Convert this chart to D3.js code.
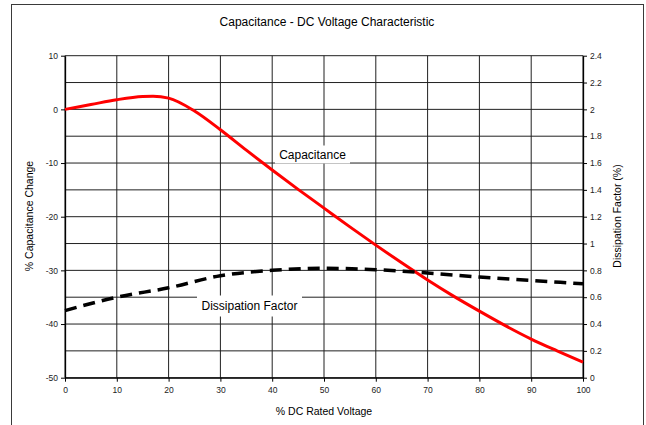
<!DOCTYPE html>
<html><head><meta charset="utf-8">
<script src="https://cdn.jsdelivr.net/npm/d3@7"></script>
<style>
html,body{margin:0;padding:0;background:#fff;}
svg{display:block;font-family:"Liberation Sans",Arial,sans-serif;}
</style></head>
<body>
<svg id="c" width="646" height="425"></svg>
<script>
// ---- data ----
const voltage = [0,5,10,15,17,20,25,30,35,40,45,50,55,60,65,70,75,80,85,90,95,100];
const capacitanceChange = [0,0.9,1.8,2.4,2.45,2.1,-0.3,-3.8,-7.6,-11.3,-14.9,-18.4,-21.9,-25.3,-28.6,-31.8,-34.8,-37.6,-40.3,-42.8,-45.0,-47.1];
const dfVoltage = [0,10,20,30,40,50,60,70,80,90,100];
const dissipationFactor = [0.5,0.6,0.67,0.76,0.8,0.815,0.805,0.78,0.75,0.725,0.7];
const xTicks = [0,10,20,30,40,50,60,70,80,90,100];
const leftTicks = [-50,-40,-30,-20,-10,0,10];
const rightTicks = [0,0.2,0.4,0.6,0.8,1,1.2,1.4,1.6,1.8,2,2.2,2.4];
const titleText = "Capacitance - DC Voltage Characteristic";
const xTitle = "% DC Rated Voltage";
const yLeftTitle = "% Capacitance Change";
const yRightTitle = "Dissipation Factor (%)";

// ---- layout ----
const svg = d3.select("#c");
const L = 65, R = 583, T = 55.7, B = 377.7;
const x = d3.scaleLinear().domain([0,100]).range([L,R]);
const yL = d3.scaleLinear().domain([-50,10]).range([B,T]);
const yR = d3.scaleLinear().domain([0,2.4]).range([B,T]);

// outer frame
svg.append("rect").attr("x",11.5).attr("y",4.5).attr("width",632).attr("height",440)
  .attr("fill","#fff").attr("stroke","#3a3a3a").attr("stroke-width",1);

// grid
const grid = svg.append("g").attr("stroke","#202020").attr("stroke-width",1);
grid.selectAll("line.h").data(rightTicks).join("line")
  .attr("x1",L).attr("x2",R).attr("y1",d=>yR(d)).attr("y2",d=>yR(d));
grid.selectAll("line.v").data(xTicks).join("line")
  .attr("x1",d=>x(d)).attr("x2",d=>x(d)).attr("y1",T).attr("y2",B);

// label boxes
function labelBox(cx, cy, w, h, text){
  svg.append("rect").attr("x",cx-w/2).attr("y",cy-h/2).attr("width",w).attr("height",h).attr("fill","#fff");
  svg.append("text").attr("x",cx).attr("y",cy+4.2).attr("text-anchor","middle")
    .attr("font-size",12).attr("fill","#000").text(text);
}

// axes
const plain = d => String(d);
const axL = svg.append("g").attr("transform",`translate(${L},0)`)
  .call(d3.axisLeft(yL).tickValues(leftTicks).tickFormat(plain).tickSize(4).tickSizeOuter(0).tickPadding(3));
const axR = svg.append("g").attr("transform",`translate(${R},0)`)
  .call(d3.axisRight(yR).tickValues(rightTicks).tickFormat(plain).tickSize(4).tickSizeOuter(0).tickPadding(3));
const axB = svg.append("g").attr("transform",`translate(0,${B})`)
  .call(d3.axisBottom(x).tickValues(xTicks).tickFormat(plain).tickSize(4).tickSizeOuter(0).tickPadding(5));
[axL,axR,axB].forEach(a=>{
  a.selectAll("path.domain").attr("stroke","#000").attr("stroke-width",1.3);
  a.selectAll(".tick line").attr("stroke","#000");
  a.selectAll("text").attr("font-size",8.5).attr("fill","#222").attr("font-family","Liberation Sans, Arial, sans-serif");
});

// text labels on chart
labelBox(312.5, 154.5, 75, 18, "Capacitance");
labelBox(249.5, 306, 105, 21, "Dissipation Factor");

// series
const capLine = d3.line().x((d,i)=>x(voltage[i])).y(d=>yL(d)).curve(d3.curveMonotoneX);
svg.append("path").datum(capacitanceChange).attr("d",capLine)
  .attr("fill","none").attr("stroke","#ff0000").attr("stroke-width",3);
const dfLine = d3.line().x((d,i)=>x(dfVoltage[i])).y(d=>yR(d)).curve(d3.curveMonotoneX);
svg.append("path").datum(dissipationFactor).attr("d",dfLine)
  .attr("fill","none").attr("stroke","#000").attr("stroke-width",3.5)
  .attr("stroke-dasharray","12,7");

// titles
svg.append("text").attr("x",327).attr("y",26).attr("text-anchor","middle")
  .attr("font-size",12).attr("fill","#000").text(titleText);
svg.append("text").attr("x",324).attr("y",415).attr("text-anchor","middle")
  .attr("font-size",10.5).attr("fill","#000").text(xTitle);
svg.append("text").attr("transform","translate(33,216) rotate(-90)").attr("text-anchor","middle")
  .attr("font-size",10.5).attr("fill","#000").text(yLeftTitle);
svg.append("text").attr("transform","translate(621,216) rotate(-90)").attr("text-anchor","middle")
  .attr("font-size",10.5).attr("fill","#000").text(yRightTitle);
</script>
</body></html>
